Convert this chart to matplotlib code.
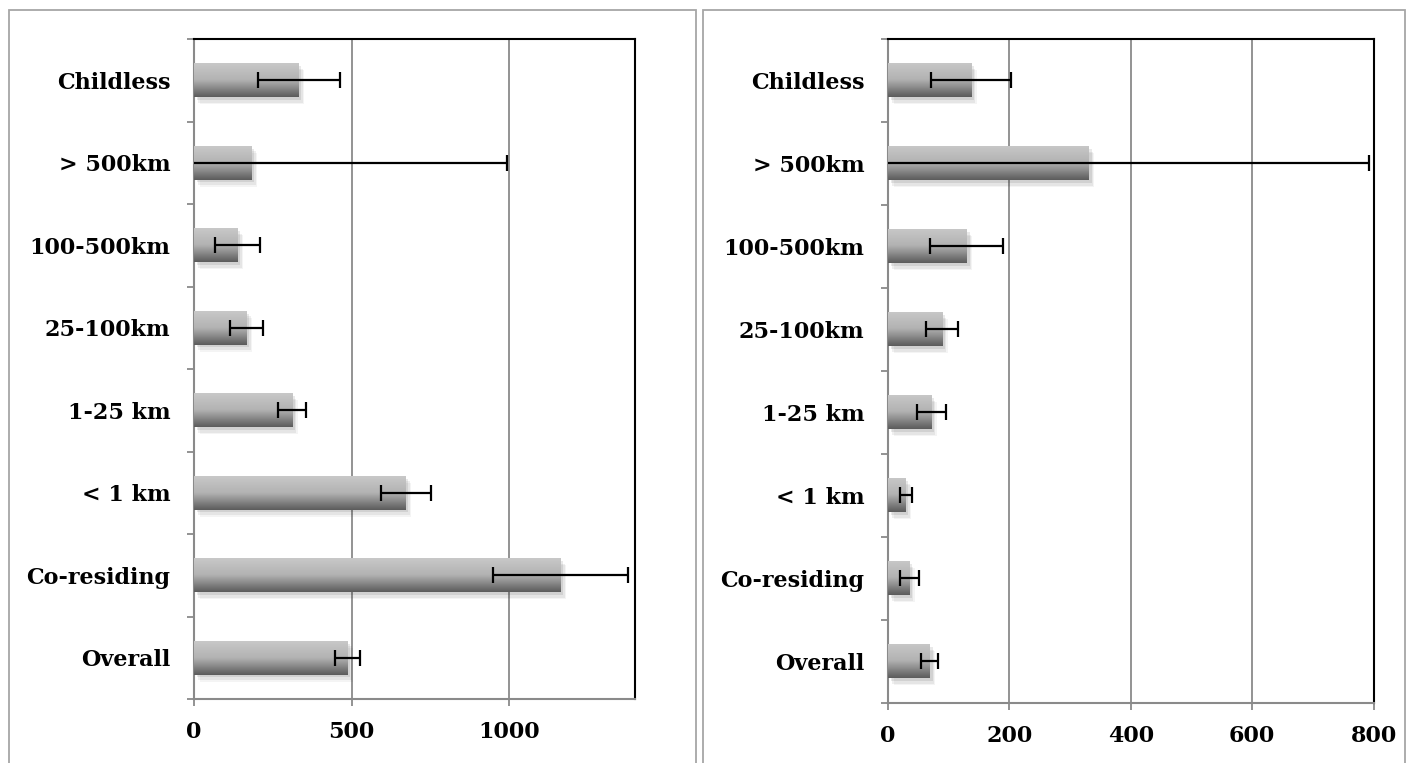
import numpy as np
import matplotlib
matplotlib.use("Agg")
import matplotlib.pyplot as plt
import matplotlib.patheffects as pe
from matplotlib.colors import LinearSegmentedColormap
from matplotlib.patches import Rectangle

# categories bottom -> top
categories = ["Overall", "Co-residing", "< 1 km", "1-25 km",
              "25-100km", "100-500km", "> 500km", "Childless"]

left_values = [487, 1162, 671, 311, 167, 138, 183, 332]
left_errors = [40, 214, 79, 45, 53, 72, 811, 130]
left_ticks = [0, 500, 1000]

right_values = [69, 35, 29, 71, 89, 130, 331, 137]
right_errors = [14, 16, 10, 24, 27, 60, 461, 66]
right_ticks = [0, 200, 400, 600, 800]

W, H = 1408, 763
font = dict(family="DejaVu Serif", weight="bold", size=16)
grey = "#8a8a8a"
bar_cmap = LinearSegmentedColormap.from_list("bar", ["#c8c8c8", "#b2b2b2", "#5c5c5c"])


def draw_panel(ax, values, errors, ticks, xmax):
    y = np.arange(len(categories))
    bars = ax.barh(y, values, height=0.41, color="#8a8a8a", zorder=2,
                   path_effects=[pe.SimplePatchShadow(offset=(4, -5), alpha=0.05),
                                 pe.SimplePatchShadow(offset=(3, -4), alpha=0.07),
                                 pe.SimplePatchShadow(offset=(2, -2), alpha=0.1),
                                 pe.Normal()])
    grad = np.linspace(0, 1, 64).reshape(-1, 1)
    for b in bars:
        x0, y0 = b.get_x(), b.get_y()
        im = ax.imshow(grad, cmap=bar_cmap, aspect="auto", zorder=3,
                       extent=(x0, x0 + b.get_width(), y0, y0 + b.get_height()),
                       interpolation="bicubic")
        im.set_clip_path(b)
    ax.errorbar(values, y, xerr=errors, fmt="none", ecolor="black",
                elinewidth=1.6, capsize=6, capthick=1.6, zorder=4)

    ax.set_xlim(0, xmax)
    ax.set_ylim(-0.5, len(categories) - 0.5)
    ax.set_xticks(ticks)
    ax.set_xticklabels([str(t) for t in ticks], fontdict=font)
    ax.set_yticks(y)
    ax.set_yticklabels(categories, fontdict=font)
    ax.set_yticks(np.arange(-0.5, len(categories)), minor=True)
    ax.tick_params(axis="y", which="major", length=0, pad=17)
    ax.tick_params(axis="y", which="minor", length=5, width=1.3, color=grey)
    ax.tick_params(axis="x", length=5, width=1.3, color=grey, pad=11)
    ax.grid(axis="x", color=grey, linewidth=1.3, zorder=0)
    ax.set_axisbelow(True)
    ax.spines["left"].set_color(grey)
    ax.spines["bottom"].set_color(grey)
    for s in ax.spines.values():
        s.set_linewidth(1.5)


fig = plt.figure(figsize=(W / 100, H / 100), dpi=100)

# outer chart boxes
fig.patches.append(Rectangle((9 / W, -0.01), (696 - 9) / W, (H - 10) / H + 0.01,
                             transform=fig.transFigure, fill=False,
                             edgecolor="#a6a6a6", linewidth=1.3))
fig.patches.append(Rectangle((703 / W, -0.01), (1405 - 703) / W, (H - 10) / H + 0.01,
                             transform=fig.transFigure, fill=False,
                             edgecolor="#a6a6a6", linewidth=1.3))

ax1 = fig.add_axes([194 / W, (H - 699) / H, (635.5 - 194) / W, (699 - 39) / H])
draw_panel(ax1, left_values, left_errors, left_ticks, 1400)

ax2 = fig.add_axes([888 / W, (H - 702.5) / H, (1373.5 - 888) / W, (702.5 - 39) / H])
draw_panel(ax2, right_values, right_errors, right_ticks, 800)

fig.savefig("out.png", dpi=100)
